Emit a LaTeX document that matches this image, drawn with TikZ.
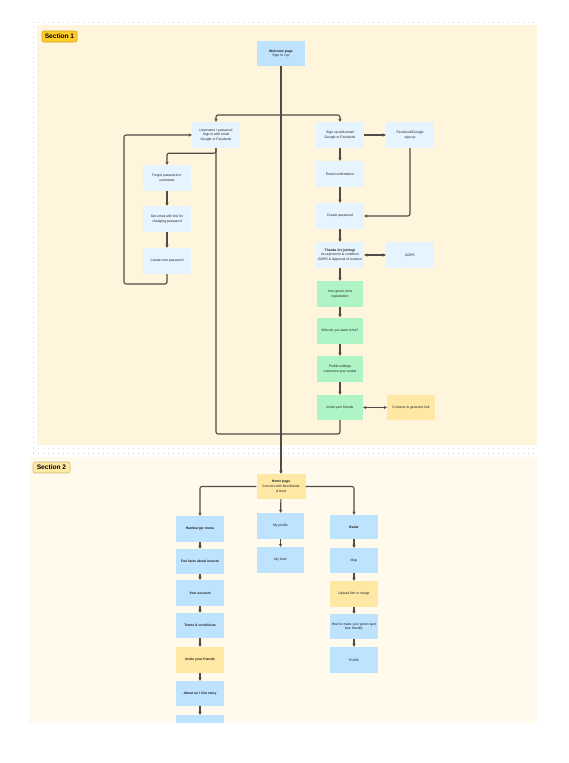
\documentclass[tikz,border=0pt]{standalone}
\usepackage{fontspec}
\setmainfont{Liberation Sans}
\usetikzlibrary{arrows.meta,positioning}
\definecolor{cSecA}{HTML}{FFF5DD}
\definecolor{cSecB}{HTML}{FFFAEB}
\definecolor{cTagA}{HTML}{FFCD29}
\definecolor{cTagB}{HTML}{FFE8A3}
\definecolor{cBlue}{HTML}{BDE3FF}
\definecolor{cBlueL}{HTML}{E6F4FF}
\definecolor{cGreen}{HTML}{AFF4C6}
\definecolor{cYellow}{HTML}{FFE8A3}
\definecolor{cLine}{HTML}{4F4B46}
\definecolor{cInk}{HTML}{1E1E1E}
\definecolor{cDot}{HTML}{D9D9D9}
\tikzset{
  box/.style={fill=#1,minimum width=48pt,minimum height=26pt,inner sep=1pt,align=center,font=\fontsize{3.4}{4.7}\selectfont,text=cInk},
  box/.default=cBlueL,
  tag/.style={fill=#1,draw=#1!80!black,rounded corners=2pt,line width=0.6pt,font=\fontsize{6.6}{7}\selectfont\bfseries,text=black,minimum width=35pt,minimum height=11pt,inner sep=0pt},
  arr/.style={-{Stealth[length=3.2pt,width=3.4pt]},line width=1.1pt,color=cLine,rounded corners=2pt},
  darr/.style={{Stealth[length=3.2pt,width=3.4pt]}-{Stealth[length=3.2pt,width=3.4pt]},line width=1.1pt,color=cLine},
  wire/.style={line width=1.1pt,color=cLine,rounded corners=2pt},
}
\begin{document}
\begin{tikzpicture}[x=1pt,y=-1pt]
    \useasboundingbox (0,0) rectangle (569,763);
    % dotted frame round section 1
    \draw[cDot,line width=1pt,dash pattern=on 1pt off 4pt] (33,22.5) -- (537,22.5);
    \draw[cDot,line width=1pt,dash pattern=on 1pt off 4pt] (33.5,22) -- (33.5,455);
    \draw[cDot,line width=1pt,dash pattern=on 1pt off 4pt] (33,448.5) -- (537,448.5);
    \draw[cDot,line width=1pt,dash pattern=on 1pt off 4pt] (33,453.5) -- (537,453.5);
    % sections
    \fill[cSecA] (37,25) rectangle (537,445);
    \fill[cSecB] (29,457) rectangle (537,723);
    \node[tag=cTagA] (sec1) at (59.5,36.5) {Section 1};
    \node[tag=cTagB,minimum width=37pt] (sec2) at (51.5,467.5) {Section 2};
    % section 1: sign in
    \node[box=cBlue,minimum height=25pt] (welcome) at (281,53.5) {\textbf{Welcome page}\\Sign in / up};
    \node[box] (login) at (216,135) {Username / password\\Sign in with email\\Google or Facebook};
    \node[box] (forgot) at (167,178) {Forgot password or\\username};
    \node[box] (getmail) at (167,219) {Get email with link for\\changing password};
    \node[box] (newpw) at (167,261) {Create new password};
    % section 1: sign up
    \node[box] (signup) at (340,135) {Sign up with email\\Google or Facebook};
    \node[box] (fbsign) at (410,135) {Facebook/Google\\sign up};
    \node[box] (mailconf) at (340,174) {Email confirmation};
    \node[box] (createpw) at (340,216) {Create password};
    \node[box] (thanks) at (340,255) {\textbf{Thanks for joining!}\\Accept terms \& condition\\GDPR \& Approval of location};
    \node[box] (gdpr) at (410,255) {GDPR};
    \node[box=cGreen,minimum width=46pt] (zone) at (340,294) {Your green zone\\registration};
    \node[box=cGreen,minimum width=46pt] (who) at (340,330.5) {Who do you want to be?};
    \node[box=cGreen,minimum width=46pt] (avatar) at (340,369) {Profile settings\\customize your avatar};
    \node[box=cGreen,minimum width=46pt,minimum height=25pt] (invite) at (340,407.5) {Invite your friends};
    \node[box=cYellow,minimum height=25pt] (contacts) at (411,407.5) {Contacts \& generate link};
    \coordinate (split) at (281,115);
    \coordinate (merge) at (281,434);
    \coordinate (loop) at (124,284);
    \draw[arr] (split) -| (login.north);
    \draw[arr] (split) -| (signup.north);
    \draw[arr] (login.south) -- ++(0,5) -| (forgot.north);
    \draw[arr] (forgot) -- (getmail);
    \draw[arr] (getmail) -- (newpw);
    \draw[arr] (newpw.south) |- (loop) |- (login.west);
    \draw[arr] (signup) -- (fbsign);
    \draw[arr] (signup) -- (mailconf);
    \draw[arr] (mailconf) -- (createpw);
    \draw[arr] (fbsign.south) |- (createpw.east);
    \draw[arr] (createpw) -- (thanks);
    \draw[darr] (thanks) -- (gdpr);
    \draw[arr] (thanks) -- (zone);
    \draw[arr] (zone) -- (who);
    \draw[arr] (who) -- (avatar);
    \draw[arr] (avatar) -- (invite);
    \draw[darr] (invite) -- (contacts);
    \draw[wire] (login.south) |- (merge);
    \draw[wire] (invite.south) |- (merge);
    % section 2
    \node[box=cYellow,minimum width=49pt,minimum height=25pt] (home) at (281,486.5) {\textbf{Home page}\\Connect with BeeStands\\\& feed};
    \draw[arr] (welcome.south) -- (home.north);
    \node[box=cBlue] (menu) at (200,529) {\textbf{Hamburger menu}};
    \node[box=cBlue,minimum height=25pt] (facts) at (200,561.5) {\textbf{Fun facts about insects}};
    \node[box=cBlue] (account) at (200,593) {\textbf{Your account}};
    \node[box=cBlue,minimum height=25pt] (terms) at (200,625.5) {\textbf{Terms \& conditions}};
    \node[box=cYellow] (invite2) at (200,660) {\textbf{Invite your friends}};
    \node[box=cBlue,minimum height=25pt] (about) at (200,693.5) {\textbf{About us / Our story}};
    \node[box=cBlue,minimum height=8pt] (more) at (200,719) {};
    \node[box=cBlue,minimum width=47pt] (profile) at (280.5,526) {My profile};
    \node[box=cBlue,minimum width=47pt] (feed) at (280.5,560) {My feed};
    \node[box=cBlue,minimum height=24pt] (radar) at (354,527) {\textbf{Radar}};
    \node[box=cBlue,minimum height=25pt] (map) at (354,560.5) {Map};
    \node[box=cYellow] (upload) at (354,594) {Upload film or image};
    \node[box=cBlue,minimum height=25pt] (howto) at (354,626.5) {How to make your green spot\\bee friendly};
    \node[box=cBlue] (prof) at (354,660) {Profile};
    \draw[arr] (home.west) -| (menu.north);
    \draw[arr] (home.east) -| (radar.north);
    \draw[arr] (home) -- (profile);
    \draw[arr] (menu) -- (facts);
    \draw[arr] (facts) -- (account);
    \draw[arr] (account) -- (terms);
    \draw[arr] (terms) -- (invite2);
    \draw[arr] (invite2) -- (about);
    \draw[arr] (about) -- (more);
    \draw[arr] (profile) -- (feed);
    \draw[arr] (radar) -- (map);
    \draw[arr] (map) -- (upload);
    \draw[arr] (upload) -- (howto);
    \draw[arr] (howto) -- (prof);
\end{tikzpicture}
\end{document}
